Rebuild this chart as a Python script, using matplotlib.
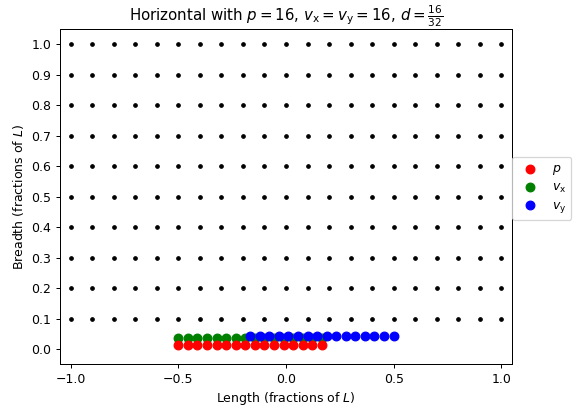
import numpy as np
import matplotlib
matplotlib.use("Agg")
import matplotlib.pyplot as plt

# grid of sample points
grid_x = [-1.0, -0.9, -0.8, -0.7, -0.6, -0.5, -0.4, -0.3, -0.2, -0.1, 0.0,
          0.1, 0.2, 0.3, 0.4, 0.5, 0.6, 0.7, 0.8, 0.9, 1.0]
grid_y = [0.1, 0.2, 0.3, 0.4, 0.5, 0.6, 0.7, 0.8, 0.9, 1.0]

# p, v_x and v_y positions
p_x = [-0.5, -0.456, -0.411, -0.367, -0.322, -0.278, -0.233, -0.189,
       -0.144, -0.1, -0.056, -0.011, 0.033, 0.078, 0.122, 0.167]
p_y = 0.014
vx_x = p_x
vx_y = 0.035
vy_x = [-0.167, -0.122, -0.078, -0.033, 0.011, 0.056, 0.1, 0.144,
        0.189, 0.233, 0.278, 0.322, 0.367, 0.411, 0.456, 0.5]
vy_y = 0.043

fig = plt.figure(figsize=(6.4, 408 / 90), dpi=90)
ax = fig.add_axes([0.104, 0.107, 0.785, 0.822])

gx, gy = np.meshgrid(grid_x, grid_y)
ax.plot(gx.ravel(), gy.ravel(), 'k.', markersize=5.5)

ax.scatter(p_x, [p_y] * len(p_x), color='red', s=48, label='$p$', zorder=3)
ax.scatter(vx_x, [vx_y] * len(vx_x), color='green', s=48,
           label=r'$v_{\mathrm{x}}$', zorder=2)
ax.scatter(vy_x, [vy_y] * len(vy_x), color='blue', s=48,
           label=r'$v_{\mathrm{y}}$', zorder=4)

ax.set_xlim(-1.05, 1.05)
ax.set_ylim(-0.05, 1.05)
ax.set_xticks([-1.0, -0.5, 0.0, 0.5, 1.0])
ax.set_yticks(np.round(np.arange(0, 1.01, 0.1), 1))
ax.set_xlabel('Length (fractions of $L$)', labelpad=3)
ax.set_ylabel('Breadth (fractions of $L$)')
ax.set_title(r'Horizontal with $p = 16$, $v_{\mathrm{x}} = v_{\mathrm{y}} = 16$, $d = \frac{16}{32}$')
ax.legend(loc='center left', bbox_to_anchor=(1, 0.525), labelspacing=0.3,
          borderaxespad=0)

fig.savefig('out.png', dpi=90)
